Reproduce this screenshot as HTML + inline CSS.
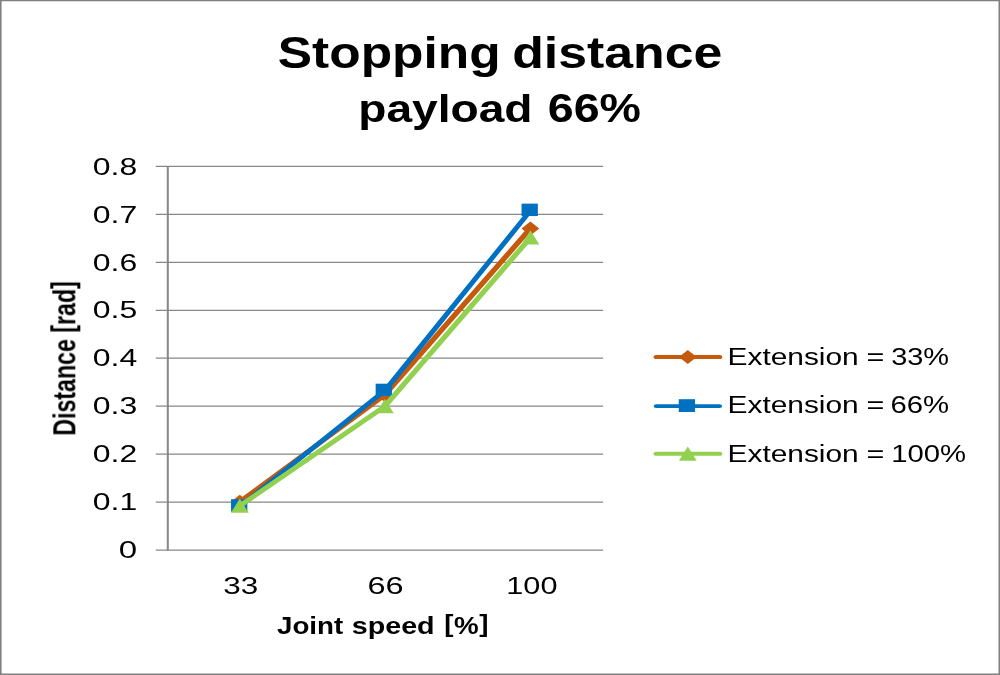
<!DOCTYPE html>
<html lang="en"><head><meta charset="utf-8"><title>Stopping distance payload 66%</title>
<style>html,body{margin:0;padding:0;background:#fff;overflow:hidden}svg{display:block}text{font-family:"Liberation Sans",sans-serif;fill:#000}.b{font-weight:bold}</style></head><body>
<svg width="1000" height="675" viewBox="0 0 1000 675">
<rect x="0" y="0" width="1000" height="675" fill="#fff"/>
<path d="M0 0H1000V675H0Z M1.6 1.2V673.4H998.5V1.2Z" fill="#808080" fill-rule="evenodd"/>
<defs><filter id="soft" x="0" y="0" width="1000" height="675" filterUnits="userSpaceOnUse"><feGaussianBlur stdDeviation="0.45"/></filter></defs>
<g filter="url(#soft)">
<line x1="155.7" y1="550.00" x2="603.1" y2="550.00" stroke="#878787" stroke-width="1.25"/>
<line x1="155.7" y1="502.05" x2="603.1" y2="502.05" stroke="#878787" stroke-width="1.25"/>
<line x1="155.7" y1="454.10" x2="603.1" y2="454.10" stroke="#878787" stroke-width="1.25"/>
<line x1="155.7" y1="406.15" x2="603.1" y2="406.15" stroke="#878787" stroke-width="1.25"/>
<line x1="155.7" y1="358.20" x2="603.1" y2="358.20" stroke="#878787" stroke-width="1.25"/>
<line x1="155.7" y1="310.25" x2="603.1" y2="310.25" stroke="#878787" stroke-width="1.25"/>
<line x1="155.7" y1="262.30" x2="603.1" y2="262.30" stroke="#878787" stroke-width="1.25"/>
<line x1="155.7" y1="214.35" x2="603.1" y2="214.35" stroke="#878787" stroke-width="1.25"/>
<line x1="155.7" y1="166.40" x2="603.1" y2="166.40" stroke="#878787" stroke-width="1.25"/>
<line x1="167.8" y1="165.90" x2="167.8" y2="550.40" stroke="#878787" stroke-width="2"/>
<polyline transform="scale(1.35 1)" points="177.63,501.8 285.04,394.9 392.89,228.5" fill="none" stroke="#C55A11" stroke-width="4.3" stroke-linejoin="round" stroke-linecap="round"/>
<path d="M239.8 494.7L248.7 501.8L239.8 508.9L230.9 501.8Z" fill="#C55A11"/>
<path d="M384.8 387.8L393.7 394.9L384.8 402.0L375.9 394.9Z" fill="#C55A11"/>
<path d="M530.4 221.4L539.3 228.5L530.4 235.6L521.5 228.5Z" fill="#C55A11"/>
<polyline transform="scale(1.35 1)" points="178.15,506.0 285.56,389.9 393.41,209.8" fill="none" stroke="#0070C0" stroke-width="4.05" stroke-linejoin="round" stroke-linecap="round"/>
<rect x="231.05" y="499.20" width="16.3" height="12.4" fill="#0070C0"/>
<rect x="375.65" y="383.69" width="16.3" height="12.4" fill="#0070C0"/>
<rect x="521.55" y="203.63" width="16.3" height="12.4" fill="#0070C0"/>
<polyline transform="scale(1.35 1)" points="177.63,505.8 285.04,406.4 392.89,237.6" fill="none" stroke="#92D050" stroke-width="4.3" stroke-linejoin="round" stroke-linecap="round"/>
<path d="M239.8 498.4L248.7 512.7L230.9 512.7Z" fill="#92D050"/>
<path d="M384.8 399.0L393.7 413.3L375.9 413.3Z" fill="#92D050"/>
<path d="M530.4 230.2L539.3 244.5L521.5 244.5Z" fill="#92D050"/>
<line transform="scale(1.35 1)" x1="486.15" y1="357" x2="532.96" y2="357" stroke="#C55A11" stroke-width="4.10" stroke-linecap="round"/>
<path d="M687.8 349.9L696.7 357.0L687.8 364.1L678.9 357.0Z" fill="#C55A11"/>
<line transform="scale(1.35 1)" x1="486.15" y1="406.1" x2="532.96" y2="406.1" stroke="#0070C0" stroke-width="3.85" stroke-linecap="round"/>
<rect x="678.75" y="399.20" width="16.3" height="12.8" fill="#0070C0"/>
<line transform="scale(1.35 1)" x1="486.15" y1="453.8" x2="532.96" y2="453.8" stroke="#92D050" stroke-width="4.10" stroke-linecap="round"/>
<path d="M687.8 446.4L696.7 460.7L678.9 460.7Z" fill="#92D050"/>
<text text-anchor="end" font-size="100" transform="translate(137.15 557.95) scale(0.3306 0.2375)">0</text>
<text text-anchor="end" font-size="100" transform="translate(137.15 510.25) scale(0.3195 0.2375)">0.1</text>
<text text-anchor="end" font-size="100" transform="translate(137.15 462.30) scale(0.3195 0.2375)">0.2</text>
<text text-anchor="end" font-size="100" transform="translate(137.15 414.35) scale(0.3195 0.2375)">0.3</text>
<text text-anchor="end" font-size="100" transform="translate(137.15 366.40) scale(0.3195 0.2375)">0.4</text>
<text text-anchor="end" font-size="100" transform="translate(137.15 318.45) scale(0.3195 0.2375)">0.5</text>
<text text-anchor="end" font-size="100" transform="translate(137.15 270.50) scale(0.3195 0.2375)">0.6</text>
<text text-anchor="end" font-size="100" transform="translate(137.15 222.55) scale(0.3195 0.2375)">0.7</text>
<text text-anchor="end" font-size="100" transform="translate(137.15 174.60) scale(0.3195 0.2375)">0.8</text>
<text font-size="100" transform="translate(223.27 594.15) scale(0.3142 0.2380)">33</text>
<text font-size="100" transform="translate(367.40 594.15) scale(0.3247 0.2380)">66</text>
<text font-size="100" transform="translate(506.30 594.15) scale(0.3067 0.2380)">100</text>
<text class="b" font-size="100" transform="translate(277.81 67.90) scale(0.5145 0.4420)"><tspan>Stopping</tspan> <tspan dx="-5.35" textLength="408.34" lengthAdjust="spacingAndGlyphs">distance</tspan></text>
<text class="b" font-size="100" transform="translate(358.30 122.00) scale(0.4611 0.3800)"><tspan>payload</tspan> <tspan dx="5.26" textLength="202.04" lengthAdjust="spacingAndGlyphs" font-size="105.26">66%</tspan></text>
<text class="b" font-size="100" transform="translate(276.98 633.50) scale(0.2773 0.2350)"><tspan>Joint</tspan> <tspan dx="3.14" textLength="298.93" lengthAdjust="spacingAndGlyphs">speed</tspan> <tspan dx="6.62" dy="-6.5">[</tspan><tspan dx="2.3" dy="6.5">%</tspan><tspan dx="2.3" dy="-6.5">]</tspan></text>
<text class="b" font-size="100" transform="translate(75.70 435.70) rotate(-90) scale(0.2319 0.3100)">Distance <tspan dy="-6.5">[</tspan><tspan dy="6.5">rad</tspan><tspan dy="-6.5">]</tspan></text>
<text font-size="100" transform="translate(727.51 365.10) scale(0.2990 0.2464)"><tspan>Extension</tspan> <tspan dx="-1.72" textLength="59.79" lengthAdjust="spacingAndGlyphs">=</tspan> <tspan dx="-5.08" textLength="193.63" lengthAdjust="spacingAndGlyphs">33%</tspan></text>
<text font-size="100" transform="translate(727.51 412.90) scale(0.2990 0.2464)"><tspan>Extension</tspan> <tspan dx="-1.72" textLength="59.79" lengthAdjust="spacingAndGlyphs">=</tspan> <tspan dx="-7.60" textLength="196.19" lengthAdjust="spacingAndGlyphs">66%</tspan></text>
<text font-size="100" transform="translate(727.51 462.30) scale(0.2990 0.2464)"><tspan>Extension</tspan> <tspan dx="-1.72" textLength="59.79" lengthAdjust="spacingAndGlyphs">=</tspan> <tspan dx="-4.69" textLength="250.11" lengthAdjust="spacingAndGlyphs">100%</tspan></text>
</g>
</svg></body></html>
